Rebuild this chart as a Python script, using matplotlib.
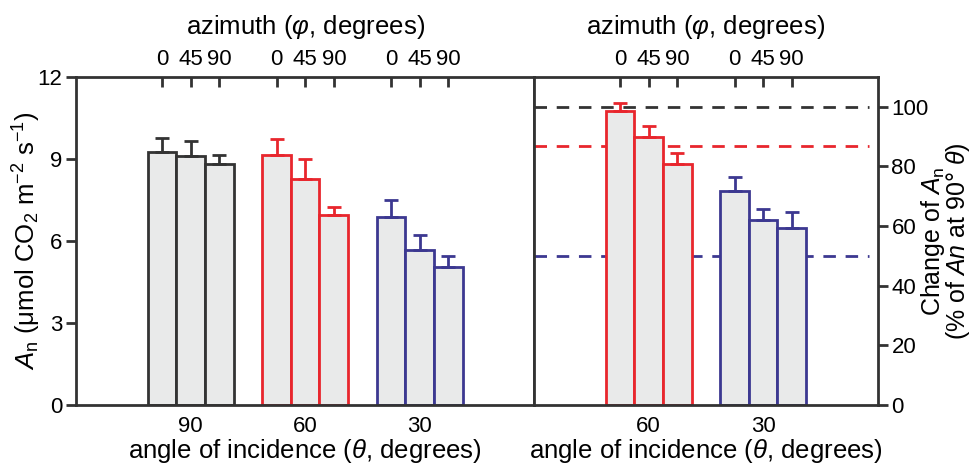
import numpy as np
import matplotlib
matplotlib.use('agg')
import matplotlib.pyplot as plt

plt.rcParams['font.family'] = ['Liberation Sans', 'DejaVu Sans']
plt.rcParams['mathtext.fontset'] = 'custom'
plt.rcParams['mathtext.rm'] = 'Liberation Sans'
plt.rcParams['mathtext.it'] = 'Liberation Sans:italic'

# values
incidence = ['90', '60', '30']
azimuth = ['0', '45', '90']
an_mean = [[9.25, 9.12, 8.80],
           [9.15, 8.28, 6.96],
           [6.87, 5.66, 5.04]]
an_err = [[0.53, 0.55, 0.36],
          [0.58, 0.73, 0.29],
          [0.62, 0.54, 0.41]]
rel_mean = [[98.7, 89.8, 80.8],
            [71.8, 61.9, 59.2]]
rel_err = [[2.4, 3.8, 3.8],
           [4.5, 3.7, 5.6]]
ref_levels = [100, 86.8, 50]

grey = '#333333'
red = '#e8262d'
blue = '#3c3891'
fill = '#e9eaea'
group_cols = [grey, red, blue]

fig = plt.figure(figsize=(9.75, 4.66), dpi=100)
ax1 = fig.add_axes([0.078, 0.131, 0.470, 0.704])
ax2 = fig.add_axes([0.548, 0.131, 0.352, 0.704])

tick_fs = 16
lab_fs = 18.5


def draw_groups(ax, means, errs, cols):
    positions = []
    for g in range(len(means)):
        x = np.arange(3) + 4 * g
        positions.extend(x)
        ax.bar(x, means[g], width=1.0, color=fill, edgecolor=cols[g],
               linewidth=2, zorder=2)
        ax.errorbar(x, means[g], yerr=[np.zeros(3), errs[g]], fmt='none',
                    ecolor=cols[g], elinewidth=2, capsize=5, capthick=2,
                    zorder=3)
    return positions


pos1 = draw_groups(ax1, an_mean, an_err, group_cols)
pos2 = draw_groups(ax2, rel_mean, rel_err, group_cols[1:])

for lvl, c in zip(ref_levels, group_cols):
    ax2.axhline(lvl, xmin=0, xmax=0.975, color=c, linestyle=(0, (4.5, 3.5)),
                linewidth=2, zorder=1)

ax1.set_xlim(-3, 13)
ax1.set_ylim(0, 12)
ax2.set_xlim(-3, 9)
ax2.set_ylim(0, 110)

for ax in (ax1, ax2):
    for s in ax.spines.values():
        s.set_color(grey)
        s.set_linewidth(2)

# bottom: group labels
ax1.set_xticks([1, 5, 9])
ax1.set_xticklabels(incidence)
ax2.set_xticks([1, 5])
ax2.set_xticklabels(incidence[1:])
for ax in (ax1, ax2):
    ax.tick_params(axis='x', length=0, pad=8, labelsize=tick_fs)
    ax.set_xlabel(r'angle of incidence ($\mathit{\theta}$, degrees)',
                  fontsize=lab_fs, labelpad=0)

# top: azimuth ticks
for ax, pos in ((ax1, pos1), (ax2, pos2)):
    top = ax.secondary_xaxis('top')
    top.set_xticks(pos)
    top.set_xticklabels(azimuth * (len(pos) // 3))
    top.tick_params(direction='in', length=7, width=2, color=grey,
                    labelsize=tick_fs, pad=5)
    top.spines['top'].set_visible(False)
    top.set_xlabel(r'azimuth ($\mathit{\varphi}$, degrees)', fontsize=lab_fs,
                   labelpad=11)

ax1.set_yticks([0, 3, 6, 9, 12])
ax1.tick_params(axis='y', direction='out', length=7, width=2, color=grey,
                labelsize=tick_fs, pad=3)
ax1.set_ylabel(r'$\mathit{A}_\mathrm{n}$ (μmol CO$_2$ m$^{-2}$ s$^{-1}$)',
               fontsize=lab_fs, labelpad=-4)

ax2.yaxis.tick_right()
ax2.set_yticks([0, 20, 40, 60, 80, 100])
ax2.tick_params(axis='y', direction='out', length=7, width=2, color=grey,
                labelsize=tick_fs, pad=3)
# right label placed by hand so it stays inside the figure
fig.text(0.9695, 0.483, 'Change of $\\mathit{A}_\\mathrm{n}$\n'
         '(% of $\\mathit{An}$ at 90° $\\mathit{\\theta}$)',
         fontsize=18, rotation=90, ha='center', va='center',
         multialignment='center', linespacing=0.85)

fig.savefig('out.png', dpi=100)
